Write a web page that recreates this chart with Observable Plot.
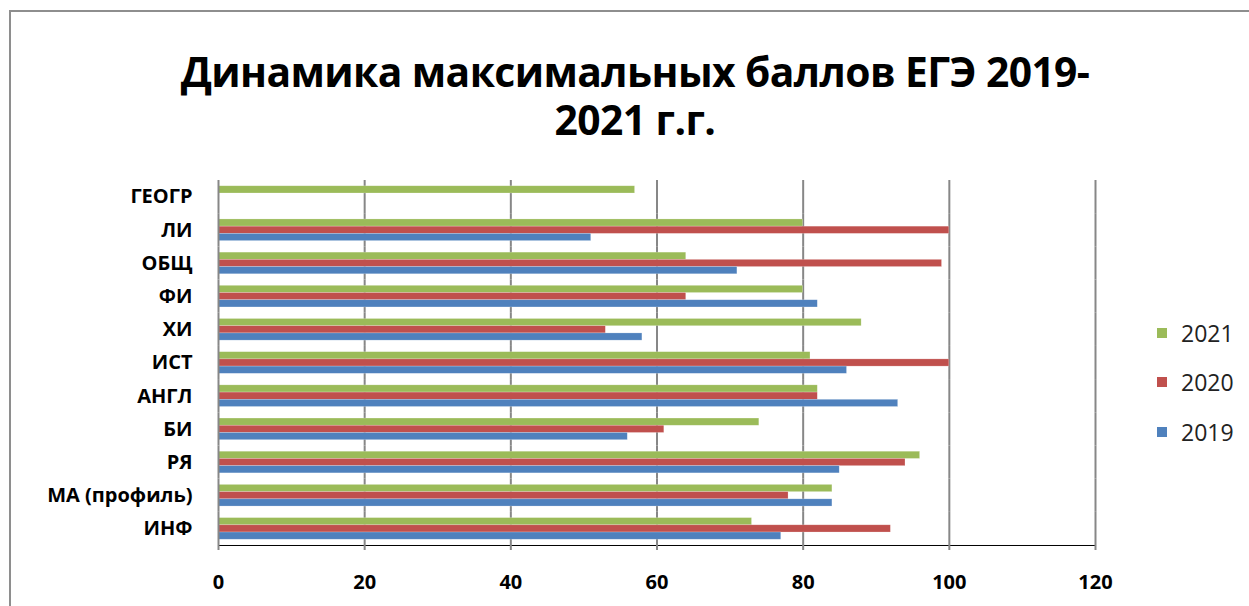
<!DOCTYPE html>
<html>
<head>
<meta charset="utf-8">
<script src="https://cdn.jsdelivr.net/npm/d3@7"></script>
<script src="https://cdn.jsdelivr.net/npm/@observablehq/plot@0.6"></script>
<style>
  html, body { margin: 0; padding: 0; background: #fff; width: 1249px; height: 606px; overflow: hidden; }
  #frame { position: absolute; left: 9px; top: 10px; width: 1300px; height: 700px; border-left: 2px solid #8e8e8e; border-top: 2px solid #8e8e8e; }
  #title { position: absolute; left: 0; top: 47px; width: 1270px; text-align: center; font-family: "Open Sans", sans-serif; font-weight: 700; font-size: 40.8px; line-height: 48px; color: #000; letter-spacing: -0.6px; }
  #chart { position: absolute; left: 0; top: 150px; }
  #legend { position: absolute; left: 1157px; top: 0; font-family: "Open Sans", sans-serif; font-size: 23px; color: #222; }
  .item { position: absolute; left: 0; white-space: nowrap; display: flex; align-items: center; }
  .sw { width: 10px; height: 10px; margin-right: 14px; }
  svg text { font-family: "Open Sans", sans-serif; }
  g[aria-label="x-axis tick"] path, g[aria-label="x-axis tick"] line { stroke: #878787; stroke-width: 2; }
  g[aria-label="x-axis line"] path, g[aria-label="x-axis line"] line { stroke: #878787; stroke-width: 2; }
</style>
</head>
<body>
<div id="frame"></div>
<div id="title">Динамика максимальных баллов ЕГЭ 2019-<br>2021 г.г.</div>
<div id="chart"></div>
<div id="legend"></div>
<script>
// categories bottom -> top as in the chart
const categories = ["ИНФ", "МА (профиль)", "РЯ", "БИ", "АНГЛ", "ИСТ", "ХИ", "ФИ", "ОБЩ", "ЛИ", "ГЕОГР"];
const years = ["2021", "2020", "2019"];
const v2019 = [77, 84, 85, 56, 93, 86, 58, 82, 71, 51, null];
const v2020 = [92, 78, 94, 61, 82, 100, 53, 64, 99, 100, null];
const v2021 = [73, 84, 96, 74, 82, 81, 88, 80, 64, 80, 57];
const xTicks = [0, 20, 40, 60, 80, 100, 120];
const colors = ["#9BBB59", "#C0504D", "#4F81BD"];

const series = {"2019": v2019, "2020": v2020, "2021": v2021};
const data = [];
categories.forEach((c, i) => {
  years.forEach(y => {
    const v = series[y][i];
    if (v != null) data.push({cat: c, year: y, value: v});
  });
});

const chart = Plot.plot({
  width: 1249,
  height: 30 + 365 + 61,
  marginLeft: 218,
  marginRight: 154,
  marginTop: 30,
  marginBottom: 61,
  style: {fontFamily: "Open Sans, sans-serif", background: "transparent", color: "#000"},
  x: {domain: [0, 120], ticks: xTicks, tickSize: 5, tickPadding: 24, label: null, line: true, axis: "bottom"},
  fy: {domain: categories.slice().reverse(), padding: 0, round: false, label: null, tickSize: 0, tickPadding: 26, axis: "left"},
  y: {domain: years, paddingOuter: 0.8, paddingInner: 0, round: false, axis: null},
  color: {domain: years, range: colors},
  marks: [
    Plot.ruleX(xTicks.slice(1), {stroke: "#878787", strokeWidth: 2}),
    Plot.barX(data, {x: "value", y: "year", fy: "cat", fill: "year", stroke: "#ffffff", strokeOpacity: 0.35, strokeWidth: 0.6}),
    Plot.ruleX([0], {stroke: "#878787", strokeWidth: 2})
  ]
});
document.getElementById("chart").appendChild(chart);

// style axis text
chart.querySelectorAll('g[aria-label="fy-axis tick label"] text, g[aria-label="fy-axis"] text').forEach(t => {
  t.style.fontSize = "20px"; t.style.fontWeight = "700";
});
chart.querySelectorAll('g[aria-label="x-axis tick label"] text, g[aria-label="x-axis"] text').forEach(t => {
  t.style.fontSize = "20px"; t.style.fontWeight = "700";
});

// legend
const legend = document.getElementById("legend");
const legendTops = [317, 366, 416];
years.forEach((y, i) => {
  const d = document.createElement("div");
  d.className = "item";
  d.style.top = legendTops[i] + "px";
  const sw = document.createElement("span");
  sw.className = "sw";
  sw.style.background = colors[i];
  const t = document.createElement("span");
  t.textContent = y;
  d.appendChild(sw); d.appendChild(t);
  legend.appendChild(d);
});
</script>
</body>
</html>
